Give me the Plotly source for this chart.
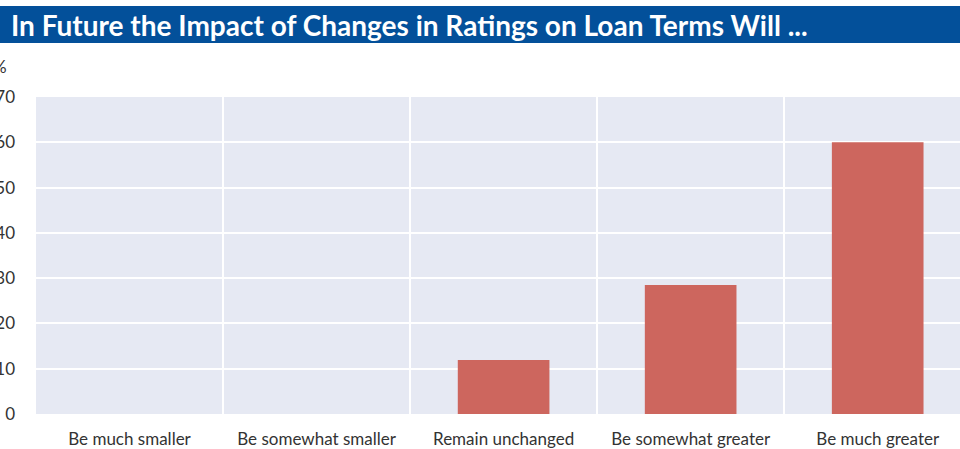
import plotly.graph_objects as go

# Survey answers and share of respondents (%)
categories = [
    "Be much smaller",
    "Be somewhat smaller",
    "Remain unchanged",
    "Be somewhat greater",
    "Be much greater",
]
shares = [0.0, 0.0, 11.9, 28.5, 60.0]
y_ticks = [0, 10, 20, 30, 40, 50, 60, 70]

TITLE = "In Future the Impact of Changes in Ratings on Loan Terms Will ..."
BLUE = "#03509a"
BAR = "#cd665e"
BG = "#e6e9f3"
TEXT = "#333333"

W, H = 960, 449
M_L, M_T, M_B = 36, 97, 35
plot_w = W - M_L
plot_h = H - M_T - M_B


def py(pixel):
    # pixel row -> paper y
    return (H - M_B - pixel) / plot_h


def px_(pixel):
    # pixel column -> paper x
    return (pixel - M_L) / plot_w


fig = go.Figure(
    go.Bar(x=categories, y=shares, marker_color=BAR, marker_line_width=0, width=0.49)
)

# blue title banner
fig.add_shape(
    type="rect", xref="paper", yref="paper",
    x0=px_(0), x1=1.0, y0=py(43), y1=py(6),
    fillcolor=BLUE, line_width=0, layer="above",
)
fig.add_annotation(
    text=f"<b>{TITLE}</b>", xref="paper", yref="paper",
    x=px_(9), y=py(25), xanchor="left", yanchor="middle",
    showarrow=False, font=dict(family="Lato", size=28, color="white"),
)
# unit label
fig.add_annotation(
    text="%", xref="paper", yref="paper",
    x=px_(9), y=py(67), xanchor="right", yanchor="middle",
    showarrow=False, font=dict(family="Lato", size=17, color=TEXT),
)

fig.update_layout(
    width=W, height=H,
    margin=dict(l=M_L, r=0, t=M_T, b=M_B, autoexpand=False),
    paper_bgcolor="white", plot_bgcolor=BG,
    font=dict(family="Lato", size=17, color=TEXT),
    showlegend=False,
    bargap=0.5,
)
fig.update_xaxes(
    tickson="boundaries", showgrid=True, gridcolor="white", gridwidth=1.5,
    ticks="", range=[-0.5, 4.44], automargin=False, ticklabelstandoff=13,
)
fig.update_yaxes(
    range=[0, 70], tickvals=y_ticks, showgrid=True, gridcolor="white",
    gridwidth=1.5, zeroline=False, ticks="", automargin=False,
    ticklabelstandoff=20,
)

# drop the browser's default body margin so the figure sits at the page corner
fig.write_html(
    "out.html",
    config={"displayModeBar": False},
    post_script="document.body.style.margin='0';",
)
